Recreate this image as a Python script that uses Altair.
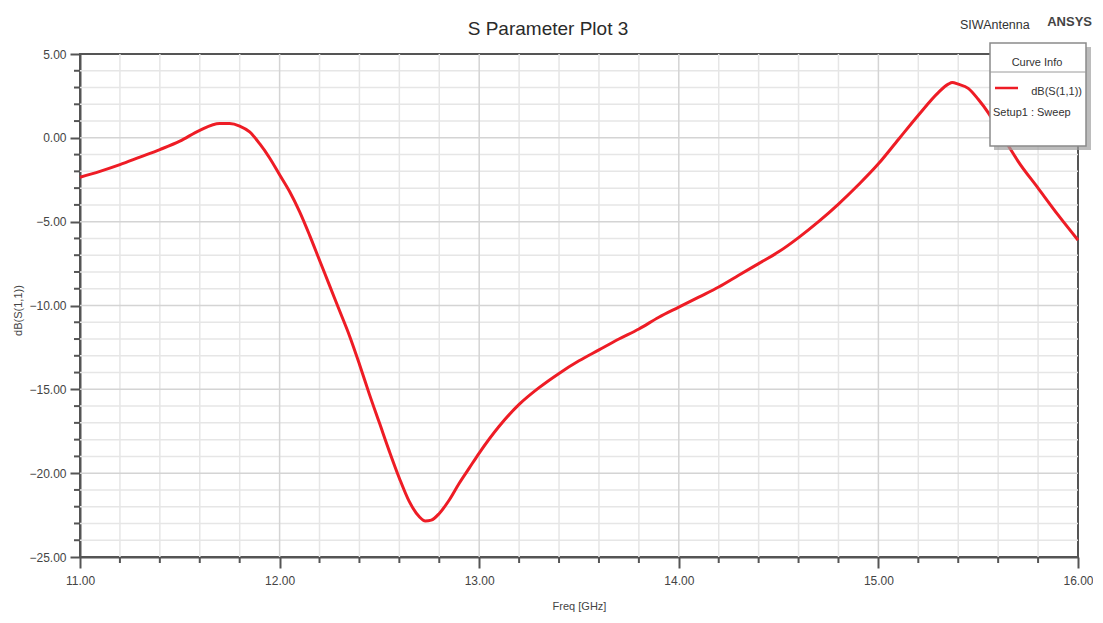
import altair as alt
import pandas as pd

# ---- data ----
freq_ghz = [11.0, 11.1, 11.2, 11.3, 11.4, 11.5, 11.6, 11.7, 11.75, 11.8, 11.85, 11.9,
            11.95, 12.0, 12.05, 12.1, 12.15, 12.2, 12.25, 12.3, 12.35, 12.4, 12.45,
            12.5, 12.55, 12.6, 12.65, 12.7, 12.73, 12.76, 12.8, 12.85, 12.9, 12.95,
            13.0, 13.1, 13.2, 13.3, 13.4, 13.5, 13.6, 13.7, 13.8, 13.9, 14.0, 14.1,
            14.2, 14.3, 14.4, 14.5, 14.6, 14.7, 14.8, 14.9, 15.0, 15.1, 15.2, 15.3,
            15.35, 15.37, 15.4, 15.45, 15.5, 15.55, 15.6, 15.65, 15.7, 15.8, 15.9, 16.0]
s11_db = [-2.35, -2.0, -1.6, -1.15, -0.7, -0.2, 0.45, 0.85, 0.85, 0.7, 0.35, -0.35,
          -1.2, -2.2, -3.2, -4.4, -5.8, -7.3, -8.8, -10.3, -11.8, -13.5, -15.3,
          -17.0, -18.7, -20.3, -21.7, -22.6, -22.85, -22.8, -22.4, -21.6, -20.6, -19.7,
          -18.8, -17.2, -15.9, -14.9, -14.05, -13.3, -12.65, -12.0, -11.4, -10.7, -10.1, -9.5,
          -8.9, -8.2, -7.5, -6.8, -5.95, -5.0, -3.95, -2.8, -1.55, -0.1, 1.35, 2.7,
          3.2, 3.3, 3.2, 2.95, 2.3, 1.5, 0.5, -0.45, -1.4, -3.0, -4.6, -6.1]

x_major = [11, 12, 13, 14, 15, 16]
y_major = [-25, -20, -15, -10, -5, 0, 5]
x_minor = [11.2, 11.4, 11.6, 11.8, 12.2, 12.4, 12.6, 12.8, 13.2, 13.4, 13.6, 13.8,
           14.2, 14.4, 14.6, 14.8, 15.2, 15.4, 15.6, 15.8]
y_minor = [-24, -23, -22, -21, -19, -18, -17, -16, -14, -13, -12, -11, -9, -8, -7, -6,
           -4, -3, -2, -1, 1, 2, 3, 4]
x_major_grid = [12, 13, 14, 15]
y_major_grid = [-20, -15, -10, -5, 0]

W, H = 998, 503
FONT = "Liberation Sans"
AXIS = "#555555"

curve = pd.DataFrame({"f": freq_ghz, "s": s11_db})

xscale = alt.Scale(domain=[11, 16], nice=False, zero=False)
yscale = alt.Scale(domain=[-25, 5], nice=False, zero=False)

line = alt.Chart(curve).mark_line(color="#ee1c25", strokeWidth=3, interpolate="monotone").encode(
    x=alt.X("f:Q", scale=xscale,
            axis=alt.Axis(values=x_major, format=".2f", title="Freq [GHz]",
                          tickSize=11, tickWidth=2, tickColor=AXIS,
                          domainColor=AXIS, domainWidth=2, grid=False,
                          labelFont=FONT, labelFontSize=12, labelColor="#444444",
                          labelPadding=7, labelFlush=False, labelOverlap=False,
                          titleFont=FONT, titleFontSize=11,
                          titleFontWeight="normal", titleColor="#444444",
                          titleY=49, titleX=499, titleBaseline="middle")),
    y=alt.Y("s:Q", scale=yscale,
            axis=alt.Axis(values=y_major, format=".2f", title="dB(S(1,1))",
                          tickSize=10, tickWidth=2, tickColor=AXIS,
                          domainColor=AXIS, domainWidth=2, grid=False,
                          labelFont=FONT, labelFontSize=12, labelColor="#444444",
                          labelPadding=4, labelFlush=False, labelOverlap=False,
                          titleFont=FONT, titleFontSize=11,
                          titleFontWeight="normal", titleColor="#444444",
                          titleX=-62, titleY=256, titleAngle=270,
                          titleAlign="center", titleBaseline="middle")),
)

gx_minor = alt.Chart(pd.DataFrame({"g": x_minor})).mark_rule(
    color="#e6e6e6", strokeWidth=1.5).encode(x=alt.X("g:Q", scale=xscale))
gy_minor = alt.Chart(pd.DataFrame({"g": y_minor})).mark_rule(
    color="#e6e6e6", strokeWidth=1.5).encode(y=alt.Y("g:Q", scale=yscale))
gx_major = alt.Chart(pd.DataFrame({"g": x_major_grid})).mark_rule(
    color="#d4d4d4", strokeWidth=1.5).encode(x=alt.X("g:Q", scale=xscale))
gy_major = alt.Chart(pd.DataFrame({"g": y_major_grid})).mark_rule(
    color="#d4d4d4", strokeWidth=1.5).encode(y=alt.Y("g:Q", scale=yscale))

tx_minor = alt.Chart(pd.DataFrame({"g": x_minor})).mark_rule(
    color=AXIS, strokeWidth=2).encode(
    x=alt.X("g:Q", scale=xscale), y=alt.value(H), y2=alt.value(H + 6))
ty_minor = alt.Chart(pd.DataFrame({"g": y_minor})).mark_rule(
    color=AXIS, strokeWidth=2).encode(
    y=alt.Y("g:Q", scale=yscale), x=alt.value(-6), x2=alt.value(0))

one = pd.DataFrame({"k": [0]})

title = alt.Chart(one).mark_text(
    text="S Parameter Plot 3", font=FONT, fontSize=19, color="#2a2a2a",
    align="center", baseline="alphabetic").encode(x=alt.value(468), y=alt.value(-19))
siw = alt.Chart(one).mark_text(
    text="SIWAntenna", font=FONT, fontSize=12.5, color="#333333",
    align="left", baseline="middle").encode(x=alt.value(880), y=alt.value(-29))
ansys = alt.Chart(one).mark_text(
    text="ANSYS", font=FONT, fontSize=13, fontWeight="bold", color="#444444",
    align="right", baseline="middle").encode(x=alt.value(1012), y=alt.value(-32))

shadow = alt.Chart(one).mark_rect(fill="#a0a0a0", opacity=0.7).encode(
    x=alt.value(914), x2=alt.value(1011), y=alt.value(-7), y2=alt.value(96))
box = alt.Chart(one).mark_rect(fill="white", stroke="#8a8a8a", strokeWidth=1.5).encode(
    x=alt.value(910), x2=alt.value(1006), y=alt.value(-11), y2=alt.value(92))
sep = alt.Chart(one).mark_rule(color="#9a9a9a", strokeWidth=1).encode(
    x=alt.value(910), x2=alt.value(1006), y=alt.value(18))
curve_info = alt.Chart(one).mark_text(
    text="Curve Info", font=FONT, fontSize=11, color="#333333",
    align="center", baseline="middle").encode(x=alt.value(957), y=alt.value(9))
leg_line = alt.Chart(one).mark_rule(color="#ee1c25", strokeWidth=2.5).encode(
    x=alt.value(915), x2=alt.value(938), y=alt.value(34))
leg_name = alt.Chart(one).mark_text(
    text="dB(S(1,1))", font=FONT, fontSize=11, color="#333333",
    align="right", baseline="middle").encode(x=alt.value(1002), y=alt.value(38))
leg_setup = alt.Chart(one).mark_text(
    text="Setup1 : Sweep", font=FONT, fontSize=11, color="#333333",
    align="left", baseline="middle").encode(x=alt.value(913), y=alt.value(59))

chart = alt.layer(
    gx_minor, gy_minor, gx_major, gy_major, tx_minor, ty_minor, line,
    title, siw, ansys, shadow, box, sep, curve_info, leg_line, leg_name, leg_setup
).properties(
    width=W, height=H,
    padding={"left": 72, "top": 46, "right": 15, "bottom": 55},
    autosize=alt.AutoSizeParams(type="none"),
    background="white",
).configure_view(stroke=AXIS, strokeWidth=2)

chart.save("out.html", embed_options={"renderer": "svg", "actions": False})
